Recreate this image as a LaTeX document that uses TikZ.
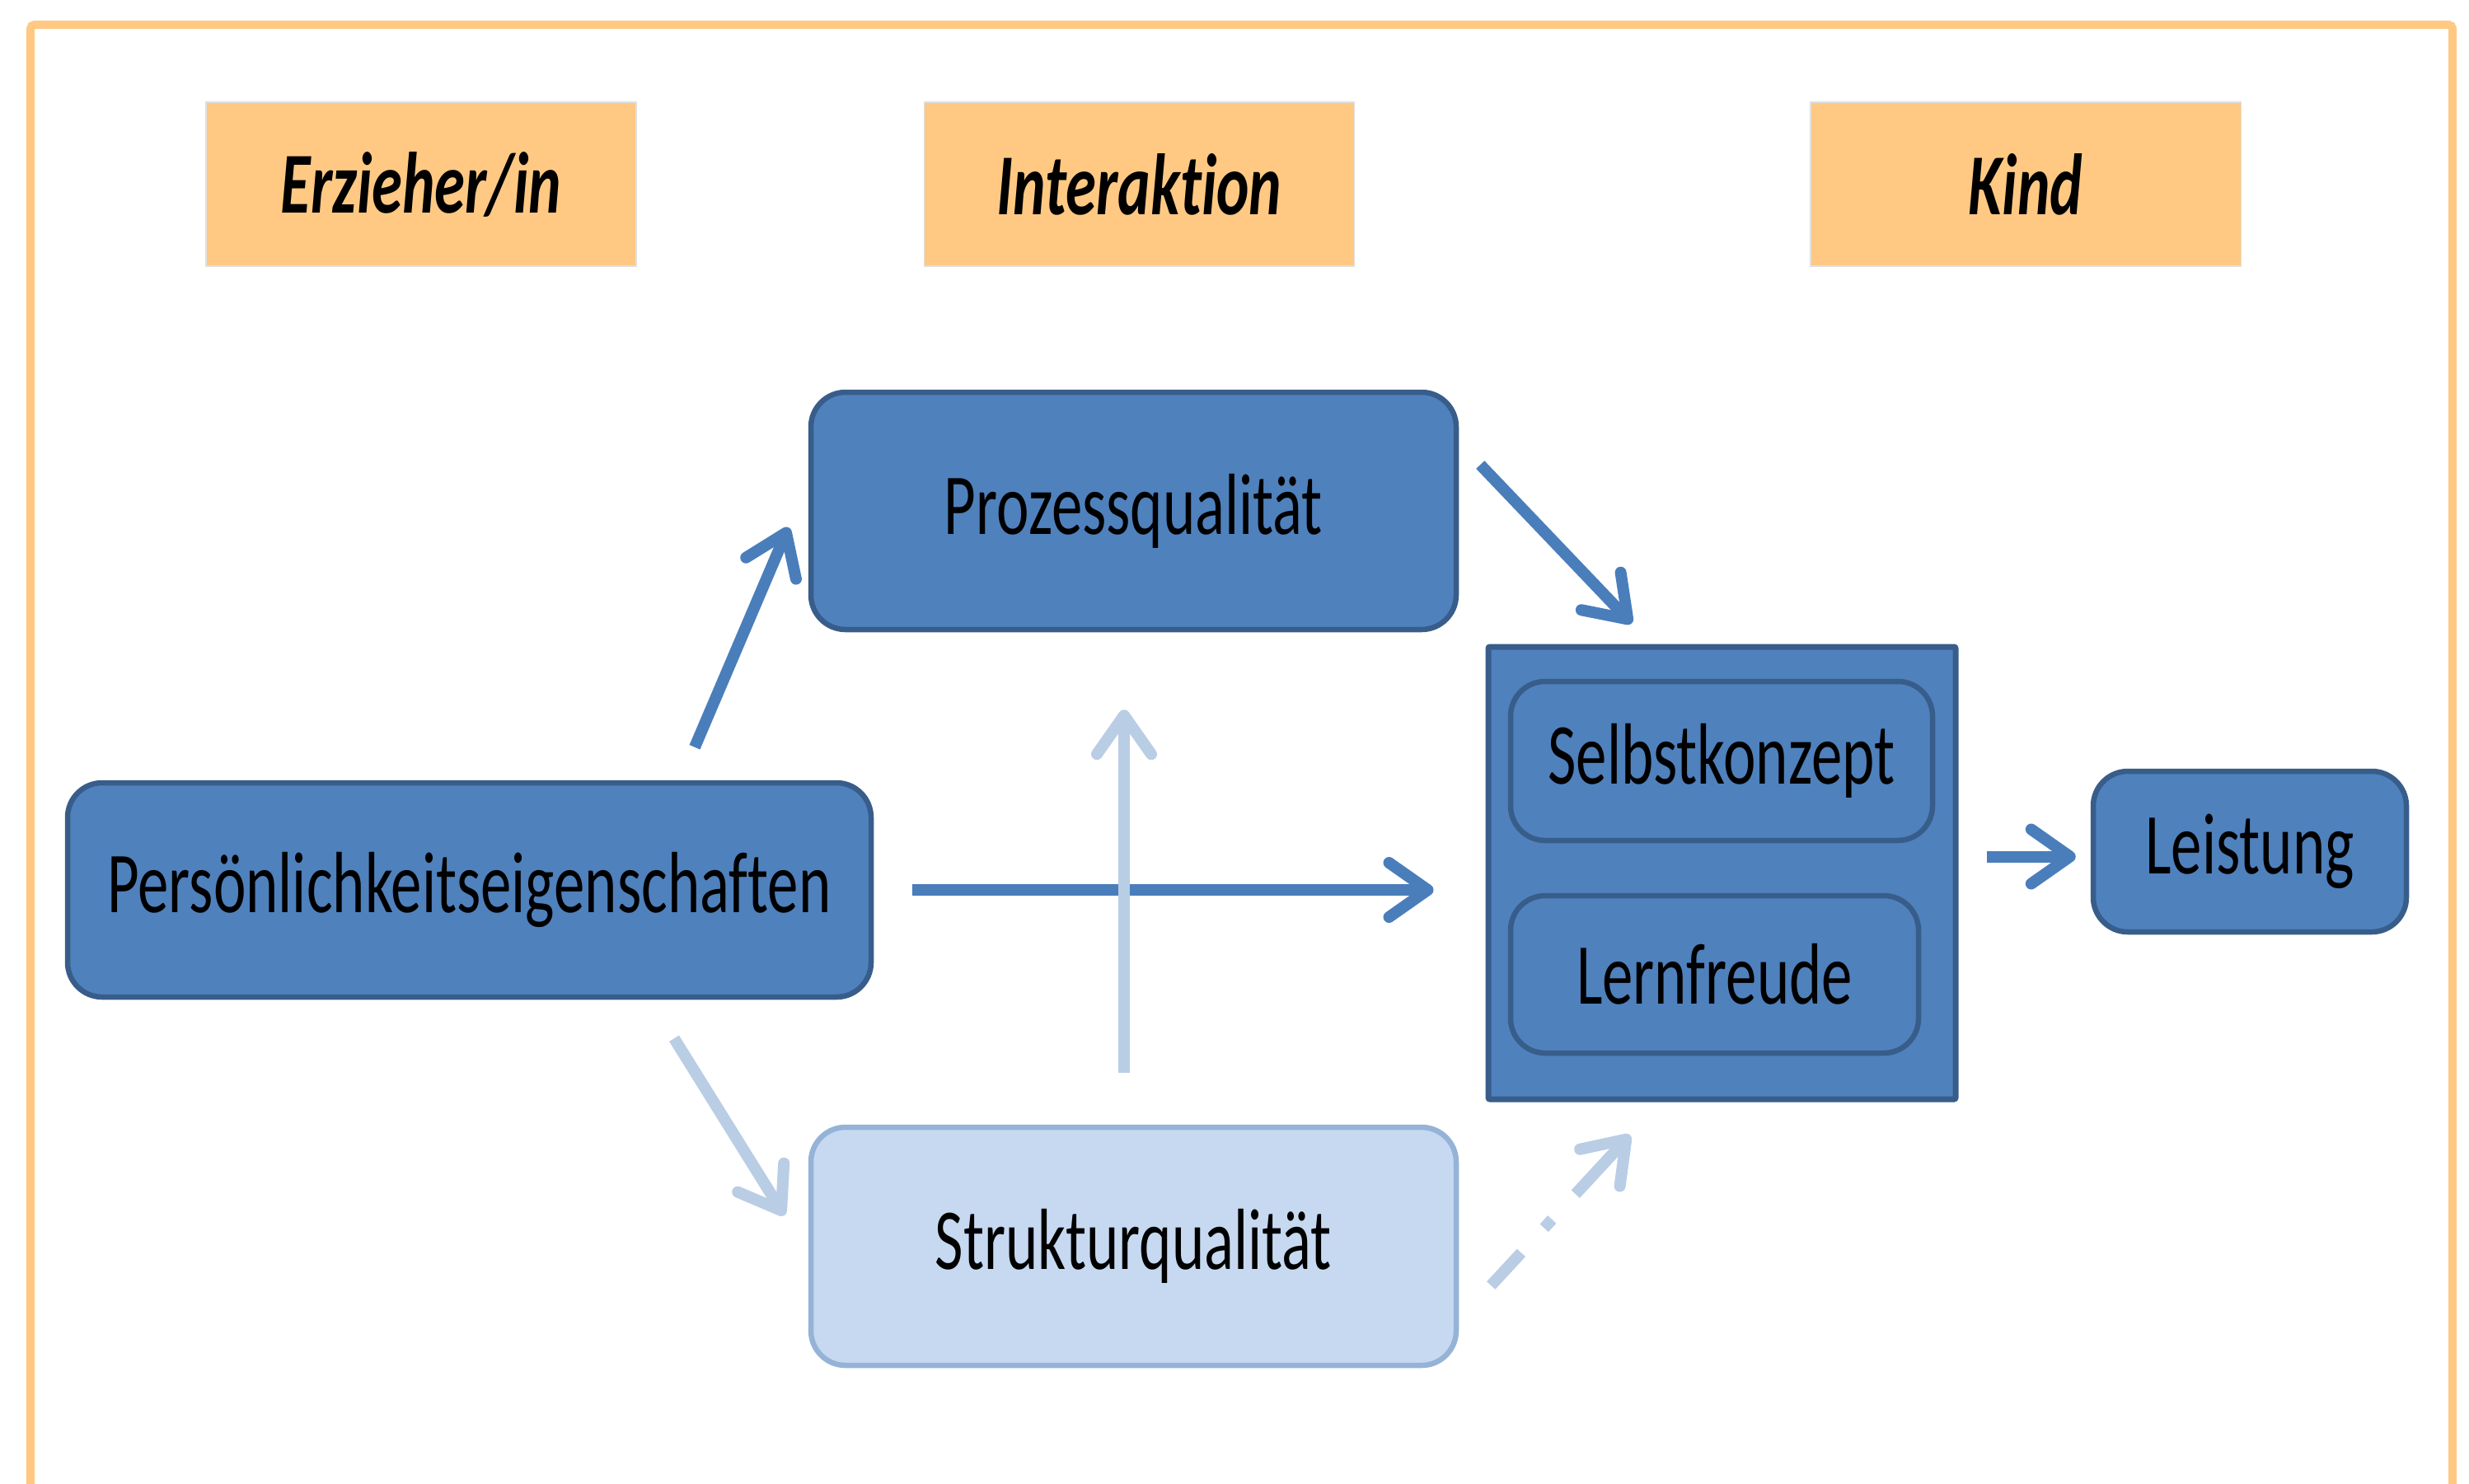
\documentclass[tikz,border=0pt]{standalone}
\usepackage{fontspec}
\setmainfont{Carlito}[FakeStretch=0.71, Ligatures=NoCommon]
\usetikzlibrary{arrows.meta,calc}
\definecolor{orng}{HTML}{FFC983}
\definecolor{bfill}{HTML}{4F81BD}
\definecolor{bdark}{HTML}{385D8A}
\definecolor{lfill}{HTML}{C6D9F1}
\definecolor{lline}{HTML}{95B3D7}
\definecolor{larrow}{HTML}{B9CDE5}
\definecolor{barrow}{HTML}{4A7EBB}
\begin{document}
\begin{tikzpicture}[
  hdr/.style={fill=orng, draw=black!12, line width=0.3pt, minimum width=5.22cm, minimum height=1.99cm, inner sep=0pt, font=\fontsize{30}{36}\selectfont\bfseries\itshape},
  bbox/.style={fill=bfill, draw=bdark, line width=0.065cm, rounded corners=0.42cm, inner sep=0pt, font=\fontsize{30}{36}\selectfont},
  lbox/.style={bbox, fill=lfill, draw=lline},
  arr/.style={draw=barrow, line width=0.14cm, -{Straight Barb[length=0.47cm, width=0.66cm, round]}},
  larr/.style={arr, draw=larrow},
]
\useasboundingbox (0,0) rectangle (29.96,-18);
\draw[orng, line width=0.1cm, rounded corners=0.05cm] (0.37,-18.2) -- (0.37,-0.30) -- (29.76,-0.30) -- (29.76,-18.2);

% headers
\node[hdr] (erz) at (5.11,-2.235) {Erzieher/in};
\node[hdr] (inter) at (13.825,-2.235) {Interaktion};
\node[hdr] (kindh) at (24.58,-2.235) {Kind};

% main boxes
\node[bbox, minimum width=7.83cm, minimum height=2.88cm] (proz) at (13.755,-6.20) {Prozessqualität};
\node[bbox, minimum width=9.75cm, minimum height=2.60cm] (pers) at (5.695,-10.80) {Persönlichkeitseigenschaften};
\node[lbox, minimum width=7.83cm, minimum height=2.89cm] (struk) at (13.755,-15.125) {Strukturqualität};
\node[bbox, rounded corners=0.02cm, line width=0.07cm, minimum width=5.67cm, minimum height=5.49cm] (kind) at (20.895,-10.595) {};
\node[bbox, minimum width=5.12cm, minimum height=1.93cm] (selbst) at (20.89,-9.235) {Selbstkonzept};
\node[bbox, minimum width=4.95cm, minimum height=1.91cm] (lern) at (20.805,-11.825) {Lernfreude};
\node[bbox, minimum width=3.80cm, minimum height=1.95cm] (leist) at (27.30,-10.335) {Leistung};

% connectors
\draw[arr] ([shift={(2.735,0.40)}]pers.north) -- ([shift={(-0.24,-0.20)}]proz.west);
\draw[larr] ([shift={(2.485,-0.47)}]pers.south) -- ([shift={(-0.29,0.375)}]struk.west);
\draw[arr] ([xshift=0.47cm]pers.east) -- ([xshift=-0.63cm]pers.east -| kind.west);
\draw[larr] ([shift={(-0.115,0.63)}]struk.north) -- ([shift={(-0.115,-0.94)}]proz.south);
\draw[arr] ([shift={(0.26,0.56)}]proz.east) -- ([shift={(-1.095,0.25)}]kind.north);
\draw[larr, dash pattern=on 0.54cm off 0.41cm on 0.14cm off 0.42cm on 3cm] ([shift={(0.39,-0.475)}]struk.east) -- ([shift={(-1.115,-0.40)}]kind.south);
\draw[arr] ([shift={(0.34,-0.06)}]kind.east |- leist.west) -- ([shift={(-0.18,-0.06)}]leist.west);
\end{tikzpicture}
\end{document}
